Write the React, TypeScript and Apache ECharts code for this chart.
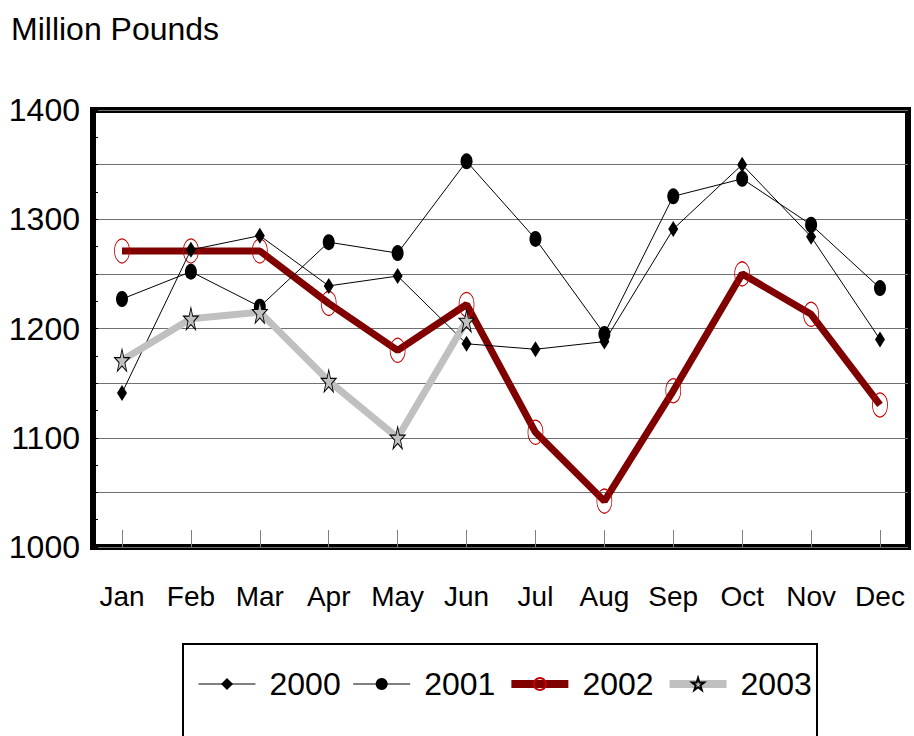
import React, { useEffect, useRef } from "react";
import * as echarts from "echarts";

const months = ["Jan", "Feb", "Mar", "Apr", "May", "Jun", "Jul", "Aug", "Sep", "Oct", "Nov", "Dec"];
const s2000 = [1141, 1272, 1285, 1239, 1248, 1186, 1181, 1188, 1291, 1350, 1284, 1190];
const s2001 = [1227, 1252, 1220, 1279, 1269, 1353, 1282, 1195, 1321, 1337, 1295, 1237];
const s2002 = [1271, 1271, 1271, 1223, 1180, 1222, 1105, 1042, 1143, 1250, 1213, 1130];
const s2003 = [1171, 1209, 1215, 1152, 1100, 1207, null, null, null, null, null, null];
const yTicks = [1000, 1100, 1200, 1300, 1400];

const STAR = "path://M50 0 L61.2 34.5 L97.6 34.5 L68.2 55.9 L79.4 90.5 L50 69.1 L20.6 90.5 L31.8 55.9 L2.4 34.5 L38.8 34.5 Z";
const FONT = "'Liberation Sans', Arial, sans-serif";

export default function App() {
  const ref = useRef<HTMLDivElement>(null);
  useEffect(() => {
    document.body.style.margin = "0";
    const chart = echarts.init(ref.current!, undefined, { renderer: "svg" });
    chart.setOption({
      animation: false,
      backgroundColor: "#fff",
      textStyle: { fontFamily: FONT },
      title: {
        text: "Million Pounds",
        left: 6,
        top: 8,
        textStyle: { fontFamily: FONT, fontSize: 32, fontWeight: "normal", color: "#000" },
      },
      grid: [
        { left: 93, top: 110, right: 6, bottom: 189, show: true, borderColor: "#000", borderWidth: 6, backgroundColor: "transparent" },
        { left: 122, top: 110, right: 34, bottom: 189 },
      ],
      xAxis: [
        { type: "value", gridIndex: 0, show: false, min: 0, max: 1 },
        {
          type: "category",
          gridIndex: 1,
          data: months,
          boundaryGap: false,
          axisLine: { show: false },
          axisTick: { show: true, inside: true, length: 17, lineStyle: { color: "#808080", width: 1 } },
          axisLabel: { margin: 35, fontSize: 28, color: "#000", fontFamily: FONT, interval: 0 },
          splitLine: { show: false },
        },
      ],
      yAxis: [
        {
          type: "value",
          gridIndex: 0,
          min: 1000,
          max: 1400,
          interval: 50,
          axisLine: { show: false },
          axisTick: { show: true, inside: true, length: 5, lineStyle: { color: "#000" } },
          minorTick: { show: true, splitNumber: 2, length: 5, lineStyle: { color: "#000" } },
          splitLine: { show: true, lineStyle: { color: "#707070", width: 1 } },
          axisLabel: {
            margin: 13,
            fontSize: 32,
            color: "#000",
            fontFamily: FONT,
            formatter: (v: number) => (yTicks.indexOf(v) >= 0 ? String(v) : ""),
          },
        },
        { type: "value", gridIndex: 1, min: 1000, max: 1400, show: false },
      ],
      legend: {
        left: 193,
        top: 663,
        itemWidth: 57,
        itemHeight: 15,
        itemGap: 12,
        textStyle: { fontFamily: FONT, fontSize: 32, color: "#000", padding: [8, 0, 0, 9] },
        data: [
          { name: "2000", lineStyle: { width: 1 } },
          { name: "2001", lineStyle: { width: 1 } },
          { name: "2002", lineStyle: { width: 8 } },
          { name: "2003", lineStyle: { width: 8 } },
        ],
      },
      graphic: [
        {
          type: "rect",
          shape: { x: 183, y: 644, width: 634, height: 140 },
          style: { fill: "none", stroke: "#000", lineWidth: 2 },
          z: -1,
        },
      ],
      series: [
        {
          name: "2000",
          type: "line",
          xAxisIndex: 1,
          yAxisIndex: 1,
          data: s2000,
          symbol: "diamond",
          symbolSize: [10, 16],
          lineStyle: { color: "#000", width: 1 },
          itemStyle: { color: "#000" },
          z: 3,
        },
        {
          name: "2001",
          type: "line",
          xAxisIndex: 1,
          yAxisIndex: 1,
          data: s2001,
          symbol: "circle",
          symbolSize: [12, 16],
          lineStyle: { color: "#000", width: 1 },
          itemStyle: { color: "#000" },
          z: 3,
        },
        {
          name: "2002",
          type: "line",
          xAxisIndex: 1,
          yAxisIndex: 1,
          data: s2002,
          symbol: "circle",
          symbolSize: [15, 24],
          lineStyle: { color: "#800000", width: 7 },
          itemStyle: { color: "transparent", borderColor: "#c00000", borderWidth: 1 },
          z: 2,
        },
        {
          name: "2003",
          type: "line",
          xAxisIndex: 1,
          yAxisIndex: 1,
          data: s2003,
          symbol: STAR,
          symbolSize: [15, 22],
          connectNulls: false,
          lineStyle: { color: "#c0c0c0", width: 7 },
          itemStyle: { color: "#c0c0c0", borderColor: "#000", borderWidth: 1 },
          z: 4,
        },
      ],
    });
    return () => chart.dispose();
  }, []);
  return <div ref={ref} style={{ width: 914, height: 736 }} />;
}
